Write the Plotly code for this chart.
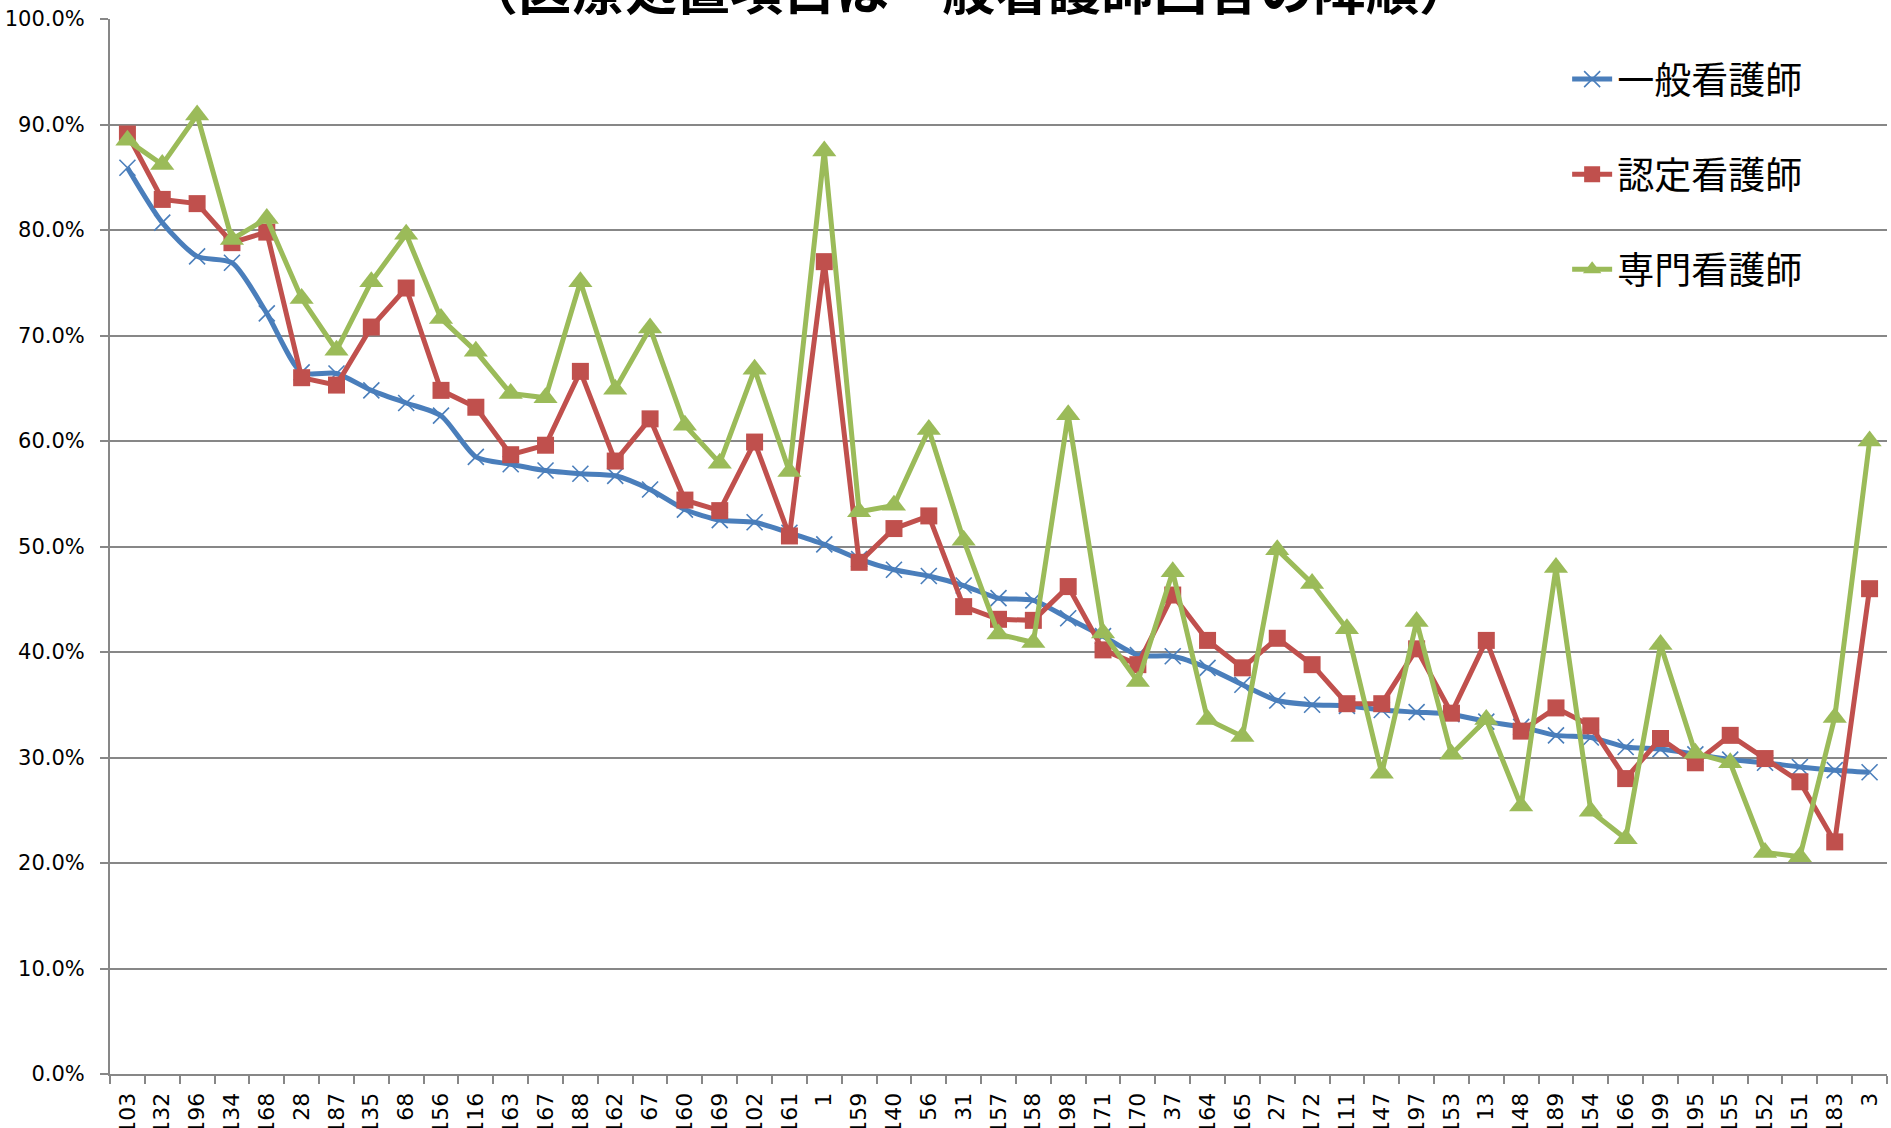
import plotly.graph_objects as go

categories = ["103", "132", "196", "134", "168", "28", "187", "135", "68", "156",
              "116", "163", "167", "188", "162", "67", "160", "169", "102", "161",
              "1", "159", "140", "56", "31", "157", "158", "198", "171", "170",
              "37", "164", "165", "27", "172", "111", "147", "197", "153", "13",
              "148", "189", "154", "166", "199", "195", "155", "152", "151", "183", "3"]

general = [85.9, 80.7, 77.5, 76.9, 72.1, 66.5, 66.4, 64.8, 63.6, 62.4,
           58.5, 57.8, 57.2, 56.9, 56.7, 55.4, 53.5, 52.5, 52.3, 51.3,
           50.2, 48.8, 47.8, 47.2, 46.3, 45.1, 44.9, 43.2, 41.5, 39.7,
           39.6, 38.5, 36.9, 35.4, 35.0, 34.9, 34.5, 34.3, 34.1, 33.4,
           32.9, 32.1, 31.9, 31.0, 30.8, 30.3, 29.8, 29.5, 29.1, 28.8, 28.6]

certified = [89.1, 82.9, 82.5, 78.8, 79.8, 66.0, 65.3, 70.8, 74.5, 64.8,
             63.2, 58.7, 59.6, 66.6, 58.1, 62.1, 54.4, 53.4, 59.9, 51.0,
             77.0, 48.5, 51.7, 52.9, 44.3, 43.1, 43.0, 46.2, 40.2, 38.8,
             45.4, 41.1, 38.5, 41.3, 38.8, 35.1, 35.1, 40.3, 34.2, 41.1,
             32.5, 34.7, 33.0, 28.0, 31.8, 29.5, 32.1, 29.9, 27.7, 22.0, 46.0]

specialist = [88.5, 86.2, 90.9, 79.1, 81.1, 73.5, 68.6, 75.1, 79.6, 71.6,
              68.5, 64.5, 64.1, 75.1, 64.9, 70.7, 61.5, 57.9, 66.8, 57.1,
              87.5, 53.3, 53.9, 61.1, 50.6, 41.7, 40.9, 62.5, 41.8, 37.2,
              47.6, 33.6, 32.0, 49.7, 46.5, 42.2, 28.5, 42.9, 30.3, 33.6,
              25.4, 48.0, 24.9, 22.3, 40.7, 30.4, 29.5, 21.0, 20.6, 33.8, 60.0]

series_names = ["一般看護師", "認定看護師", "専門看護師"]
title_text = "（医療処置項目は一般看護師回答の降順）"
ytick_vals = [0, 0.1, 0.2, 0.3, 0.4, 0.5, 0.6, 0.7, 0.8, 0.9, 1.0]

BLUE = "#4A7EBB"
RED = "#C0504D"
GREEN = "#9BBB59"
GRID = "#878787"

fig = go.Figure()
fig.add_trace(go.Scatter(
    x=categories, y=[v / 100 for v in general], name=series_names[0],
    legendgroup="g1", mode="lines+markers",
    line=dict(color=BLUE, width=5, shape="spline", smoothing=0.7),
    marker=dict(symbol="x-thin-open", size=16, color=BLUE, line=dict(width=1.6, color=BLUE)),
))
fig.add_trace(go.Scatter(
    x=categories, y=[v / 100 for v in certified], name=series_names[1],
    legendgroup="g2", mode="lines+markers",
    line=dict(color=RED, width=5),
    marker=dict(symbol="square", size=17, color=RED),
))
fig.add_trace(go.Scatter(
    x=categories, y=[v / 100 for v in specialist], name=series_names[2],
    legendgroup="g3", mode="lines+markers",
    line=dict(color=GREEN, width=5),
    marker=dict(symbol="triangle-up", size=21, color=GREEN),
))

fig.add_annotation(
    text=title_text, xref="paper", yref="paper", x=0.483, y=1.0,
    xanchor="center", yanchor="bottom", yshift=-8, showarrow=False,
    font=dict(family="Noto Sans CJK JP", size=53, color="#000000", weight="bold"),
)

fig.update_layout(
    width=1891, height=1128,
    margin=dict(l=110, r=4, t=19, b=54, autoexpand=False),
    plot_bgcolor="white", paper_bgcolor="white",
    font=dict(family="DejaVu Sans", color="#000000"),
    showlegend=True,
    legend=dict(
        x=0.82, y=0.972, xanchor="left", yanchor="top",
        bgcolor="rgba(0,0,0,0)", borderwidth=0,
        font=dict(family="Noto Sans CJK JP", size=37, color="#000000"),
        tracegroupgap=44, itemwidth=40,
    ),
)

fig.update_xaxes(
    type="category", range=[-0.5, len(categories) - 0.5],
    showgrid=False, showline=True, linecolor=GRID, linewidth=2,
    ticks="outside", tickson="boundaries", ticklen=8, tickcolor=GRID, tickwidth=1.5,
    tickangle=-90, tickfont=dict(family="DejaVu Sans", size=22, color="#000000"),
    ticklabelstandoff=8, automargin=False, fixedrange=True,
)
fig.update_yaxes(
    range=[0, 1.0], tickvals=ytick_vals, tickformat=".1%",
    showgrid=True, gridcolor=GRID, gridwidth=2,
    showline=True, linecolor=GRID, linewidth=2,
    ticks="outside", ticklen=8, tickcolor=GRID, tickwidth=1.5,
    tickfont=dict(family="DejaVu Sans", size=21, color="#000000"),
    ticklabelstandoff=11, automargin=False, zeroline=False, fixedrange=True,
)

fig.write_html("out.html", config={"displayModeBar": False},
               post_script="document.body.style.margin='0';")
